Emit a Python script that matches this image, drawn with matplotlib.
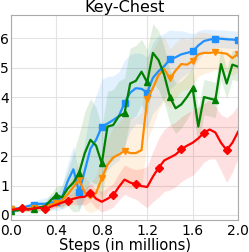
import numpy as np
import matplotlib
matplotlib.use('Agg')
import matplotlib.pyplot as plt

# steps in millions, sampled every 0.05
steps = np.linspace(0, 2.0, 41)

blue = [0.2, 0.22, 0.25, 0.3, 0.35, 0.38, 0.38, 0.42, 0.45, 0.6,
        1.15, 1.55, 0.78, 1.5, 2.25, 2.55, 3.0, 3.1, 3.22, 3.35,
        3.8, 4.15, 4.3, 4.28, 4.15, 4.65, 4.88, 5.05, 5.28, 5.35,
        5.45, 5.5, 5.55, 5.75, 5.9, 5.95, 5.98, 5.98, 5.96, 5.95, 5.93]
blue_sd = [0.05, 0.05, 0.08, 0.1, 0.12, 0.15, 0.2, 0.25, 0.3, 0.4,
           0.6, 0.8, 0.6, 1.0, 1.3, 1.5, 1.6, 1.6, 1.5, 1.5,
           1.45, 1.3, 1.2, 1.2, 1.2, 1.2, 1.2, 1.1, 1.0, 0.9,
           0.8, 0.7, 0.6, 0.5, 0.4, 0.35, 0.3, 0.3, 0.3, 0.3, 0.3]

orange = [0.2, 0.2, 0.22, 0.22, 0.22, 0.25, 0.3, 0.35, 0.4, 0.5,
          0.7, 0.95, 1.2, 0.75, 0.57, 0.75, 1.25, 1.7, 1.95, 2.05,
          2.18, 2.1, 2.1, 2.2, 3.95, 4.3, 4.75, 4.95, 4.63, 4.9,
          5.12, 5.1, 5.22, 5.45, 5.5, 5.5, 5.52, 5.5, 5.47, 5.32, 5.47]
orange_sd = [0.05, 0.05, 0.05, 0.08, 0.1, 0.1, 0.12, 0.15, 0.15, 0.2,
             0.3, 0.45, 0.6, 0.55, 0.5, 0.6, 0.8, 0.9, 1.0, 1.1,
             1.2, 1.2, 1.2, 1.3, 1.4, 1.3, 1.2, 1.1, 1.0, 0.95,
             0.9, 0.85, 0.8, 0.75, 0.7, 0.65, 0.6, 0.6, 0.6, 0.6, 0.6]

green = [0.15, 0.15, 0.18, 0.2, 0.2, 0.25, 0.3, 0.5, 0.68, 0.6,
         0.9, 1.1, 1.43, 2.1, 2.55, 2.35, 1.75, 3.0, 3.05, 3.35,
         3.45, 4.46, 4.55, 4.86, 4.5, 5.5, 5.25, 4.75, 4.0, 3.62,
         3.75, 4.0, 4.3, 3.0, 4.0, 3.95, 3.9, 5.12, 4.46, 5.1, 5.03]
green_sd = [0.05, 0.05, 0.08, 0.1, 0.1, 0.12, 0.15, 0.2, 0.3, 0.4,
            0.6, 1.0, 1.3, 1.4, 1.4, 1.3, 1.2, 1.2, 1.2, 1.2,
            1.2, 1.2, 1.2, 1.1, 1.1, 1.0, 1.0, 0.95, 0.9, 0.85,
            0.8, 0.75, 0.7, 0.65, 0.6, 0.6, 0.6, 0.55, 0.5, 0.5, 0.5]

red = [0.17, 0.2, 0.23, 0.18, 0.22, 0.25, 0.19, 0.28, 0.35, 0.42,
       0.49, 0.55, 0.6, 0.62, 0.76, 0.55, 0.45, 0.55, 0.67, 0.95,
       1.2, 1.1, 1.04, 0.98, 0.95, 1.3, 1.6, 1.85, 1.95, 2.05,
       2.23, 2.35, 2.45, 2.6, 2.79, 2.9, 2.8, 2.45, 2.2, 2.45, 2.82]
red_sd = [0.05, 0.05, 0.05, 0.06, 0.08, 0.08, 0.1, 0.1, 0.1, 0.12,
          0.15, 0.2, 0.25, 0.28, 0.3, 0.32, 0.35, 0.38, 0.4, 0.45,
          0.5, 0.5, 0.5, 0.6, 0.7, 0.85, 1.0, 1.05, 1.1, 1.1,
          1.1, 1.1, 1.1, 1.05, 1.0, 1.0, 0.9, 0.95, 1.1, 1.0, 0.9]

series = [
    (blue, blue_sd, '#1E90FF', 's', slice(0, None, 4)),
    (orange, orange_sd, '#FF8C00', 'v', slice(0, None, 4)),
    (green, green_sd, '#008000', '^', slice(0, 40, 4)),
    (red, red_sd, '#FF0000', 'D', slice(2, None, 4)),
]

fig = plt.figure(figsize=(2.49, 2.52), dpi=100)
ax = fig.add_axes([0.044, 0.127, 0.912, 0.813])

for mean, sd, col, mk, every in series:
    mean = np.array(mean)
    sd = np.array(sd)
    ax.fill_between(steps, mean - sd, mean + sd, color=col, alpha=0.12, lw=0)
for mean, sd, col, mk, every in series:
    ax.plot(steps, mean, color=col, lw=1.6, marker=mk, markersize=4.5,
            markevery=every)

ax.set_xlim(0, 2.0)
ax.set_ylim(-0.17, 6.78)
ax.set_xticks([0.0, 0.4, 0.8, 1.2, 1.6, 2.0])
ax.set_xticklabels(['0.0', '0.4', '0.8', '1.2', '1.6', '2.0'])
ax.set_yticks(range(7))
ax.tick_params(length=0, labelsize=10)
ax.tick_params(axis='x', pad=3)
ax.tick_params(axis='y', pad=1.5)
ax.grid(color='#e3e3e3', lw=0.8)
ax.set_axisbelow(True)
for s in ax.spines.values():
    s.set_color('#aaaaaa')
ax.set_xlabel('Steps (in millions)', fontsize=10.5, labelpad=0)
ax.set_title('Key-Chest', fontsize=11.5, pad=2)

fig.savefig('out.png', dpi=100)
